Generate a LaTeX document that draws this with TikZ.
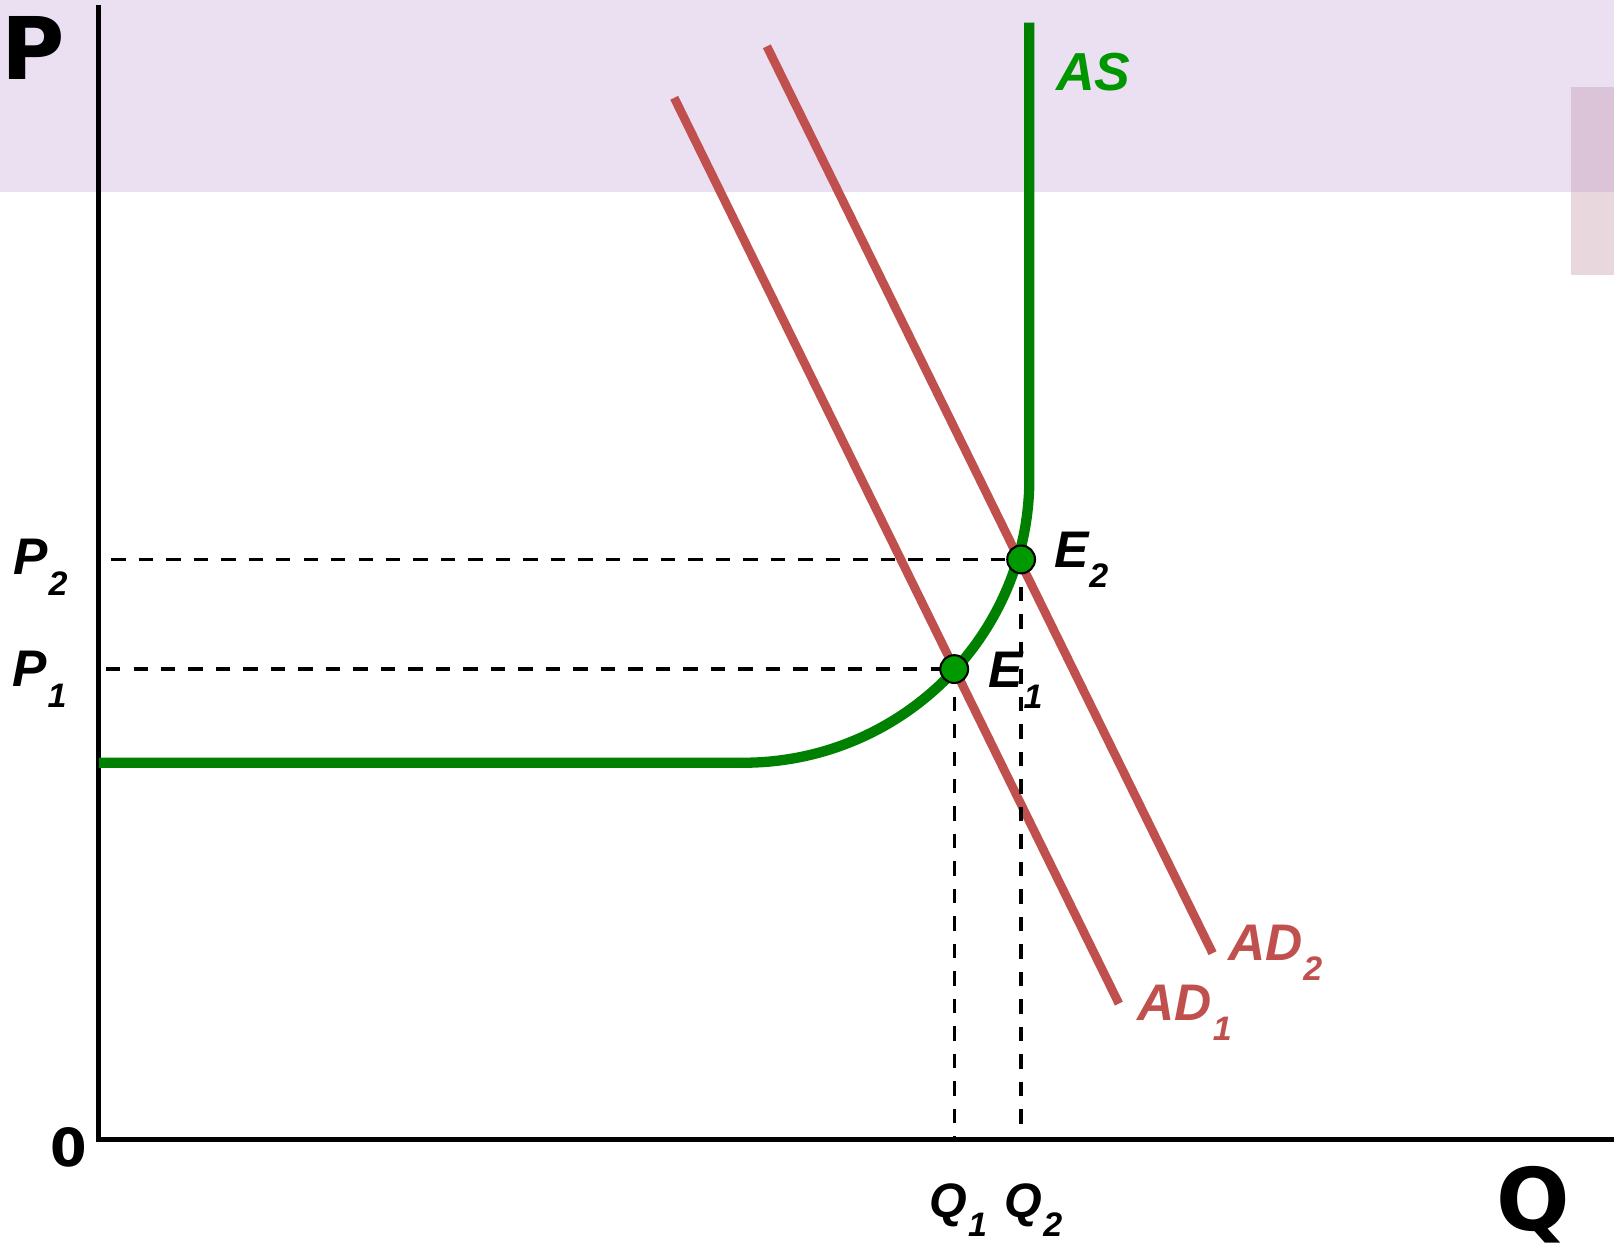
\documentclass[tikz,border=0pt]{standalone}
\usepackage{fontspec}
\setmainfont{Liberation Sans}
\newfontfamily\dvfont{DejaVu Sans}
\definecolor{band}{RGB}{235,223,242}
\definecolor{pinkA}{RGB}{219,196,215}
\definecolor{pinkB}{RGB}{232,216,222}
\definecolor{asgreen}{RGB}{0,128,0}
\definecolor{astext}{RGB}{0,150,0}
\definecolor{dotgreen}{RGB}{0,153,0}
\definecolor{adred}{RGB}{192,80,77}
\newcommand{\sublab}[2]{\fontsize{50}{50}\selectfont\bfseries\itshape #1\kern1pt\raisebox{-20pt}{\fontsize{33}{33}\selectfont\bfseries\itshape #2}}
\newcommand{\sublabq}[2]{\fontsize{47}{47}\selectfont\bfseries\itshape #1\kern1pt\raisebox{-18.5pt}{\fontsize{33}{33}\selectfont\bfseries\itshape #2}}
\tikzset{
  axisline/.style={line width=5pt, line join=miter},
  asline/.style={asgreen, line width=10pt},
  adline/.style={adred, line width=8.5pt},
  guide/.style={line width=3.2pt, dash pattern=on 14pt off 12.7pt},
  eqdot/.style={circle, fill=dotgreen, draw=black, line width=2pt, minimum size=27pt, inner sep=0pt},
  lab/.style={anchor=base west, inner sep=0pt, outer sep=0pt},
  biglab/.style={anchor=base west, inner sep=0pt, font=\dvfont\bfseries\fontsize{84}{84}\selectfont},
}
\begin{document}
\begin{tikzpicture}[x=1pt,y=-1pt]
\useasboundingbox (0,0) rectangle (1568,1217);
% background
\fill[band] (0,0) rectangle (1568,187);
\fill[pinkA] (1526,85) rectangle (1568,187);
\fill[pinkB] (1526,187) rectangle (1568,267);
% axes
\coordinate (ytop) at (96,5);
\coordinate (origin) at (96,1107);
\coordinate (xend) at (1568,1107);
\draw[axisline] (ytop) -- (origin) -- (xend);
% AD lines
\coordinate (ad1a) at (655,95);
\coordinate (ad1b) at (1087,975);
\coordinate (ad2a) at (745,45);
\coordinate (ad2b) at (1178,926);
\draw[adline] (ad1a) -- (ad1b);
\draw[adline] (ad2a) -- (ad2b);
% AS curve
\coordinate (astop) at (1000,22);
\coordinate (askink) at (1000,465);
\coordinate (asflat) at (722,741);
\coordinate (asleft) at (96,741);
\draw[asline] (astop) -- (askink) .. controls (1000,617.4) and (875.5,741) .. (asflat) -- (asleft);
% equilibria
\coordinate (E2) at (992,543.5);
\coordinate (E1) at (927,650);
\coordinate (p2s) at (108,543.5);
\coordinate (p1s) at (103,650);
\coordinate (q1b) at (927,1104);
\coordinate (q2b) at (992,1104);
\draw[guide] (p2s) -- (E2);
\draw[guide] (p1s) -- (E1);
\draw[guide] (E1) -- (q1b);
\draw[guide] (E2) -- (q2b);
\node[eqdot] (e2dot) at (E2) {};
\node[eqdot] (e1dot) at (E1) {};
% labels
\node[biglab] (plab) at (1.5,77.5) {P};
\node[biglab] (qlab) at (1454,1195) {Q};
\node[anchor=base west, inner sep=0pt, font=\dvfont\bfseries\fontsize{51}{51}\selectfont] (zero) at (48.5,1133) {0};
\node[lab] (p2lab) at (13,558.5) {\sublab{P}{2}};
\node[lab] (p1lab) at (12,667) {\sublab{P}{1}};
\node[lab] (e2lab) at (1024,551) {\sublab{E}{2}};
\node[lab] (e1lab) at (960,668) {\sublab{E}{1}};
\node[lab] (q1lab) at (903,1183) {\sublabq{Q}{1}};
\node[lab] (q2lab) at (976,1183) {\sublabq{Q}{2}};
\node[lab, text=adred] (ad2lab) at (1193,933) {\sublab{AD}{2}};
\node[lab, text=adred] (ad1lab) at (1105,991) {\sublab{AD}{1}};
\node[lab, text=astext, font=\fontsize{52}{52}\selectfont\bfseries\itshape] (aslab) at (1026,87.5) {AS};
\end{tikzpicture}
\end{document}
